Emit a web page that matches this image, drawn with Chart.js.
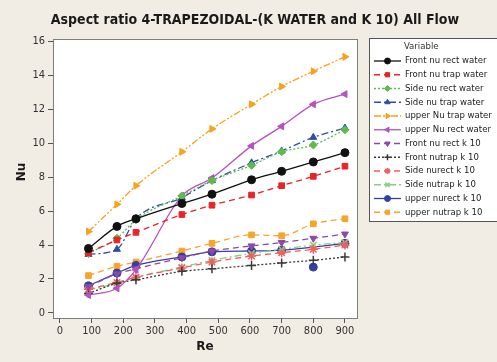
<!DOCTYPE html>
<html>
<head>
<meta charset="utf-8">
<script src="https://cdn.jsdelivr.net/npm/chart.js@4/dist/chart.umd.min.js"></script>
<style>
  html, body { margin: 0; padding: 0; background: #f1ede4; }
  #wrap { width: 497px; height: 362px; }
</style>
</head>
<body>
<div id="wrap"><canvas id="nuChart" width="497" height="362"></canvas></div>
<script>
// Re positions
const reValues = [90, 180, 240, 385, 480, 605, 700, 800, 900];

// Nu values
const frontRectWater = [3.8, 5.1, 5.55, 6.45, 7.0, 7.85, 8.35, 8.9, 9.45];
const frontTrapWater = [3.55, 4.3, 4.75, 5.8, 6.35, 6.95, 7.5, 8.05, 8.65];
const sideRectWater = [3.5, 4.4, 5.5, 6.9, 7.8, 8.7, 9.5, 9.9, 10.8];
const sideTrapWater = [3.45, 3.75, 5.55, 6.8, 7.8, 8.85, 9.55, 10.35, 10.9];
const upperTrapWater = [4.8, 6.4, 7.5, 9.5, 10.85, 12.3, 13.35, 14.25, 15.1];
const upperRectWater = [1.05, 1.45, 2.55, 6.9, 7.95, 9.85, 11.0, 12.3, 12.9];
const frontRectK10 = [1.55, 2.3, 2.6, 3.25, 3.65, 3.95, 4.15, 4.4, 4.65];
const frontTrapK10 = [1.15, 1.75, 1.95, 2.45, 2.6, 2.8, 2.95, 3.1, 3.3];
const sideRectK10 = [1.4, 1.8, 2.1, 2.65, 3.0, 3.35, 3.55, 3.75, 4.0];
const sideTrapK10 = [1.35, 1.75, 2.1, 2.7, 3.1, 3.5, 3.75, 4.0, 4.15];
// point à 800 hors de la courbe : tracé à part
const upperRectK10 = [1.6, 2.35, 2.8, 3.3, 3.6, 3.65, 3.7, null, 4.1];
const upperRectK10Outlier = [{ x: 800, y: 2.7 }];
const upperTrapK10 = [2.2, 2.75, 3.0, 3.65, 4.1, 4.6, 4.55, 5.25, 5.55];

const xTicks = [0, 100, 200, 300, 400, 500, 600, 700, 800, 900];
const yTicks = [0, 2, 4, 6, 8, 10, 12, 14, 16];

const toPoints = (vals) => vals.map((v, i) => ({ x: reValues[i], y: v }));

const isThin = (style) => style === "cross" || style === "crossRot" || style === "star";

const makeSeries = (label, vals, color, dash, style, rot) => ({
  label: label,
  data: toPoints(vals),
  borderColor: color,
  backgroundColor: color,
  borderWidth: 1.3,
  borderDash: dash,
  pointStyle: style,
  rotation: rot || 0,
  pointRadius: isThin(style) ? 4.5 : 4,
  pointBorderWidth: isThin(style) ? 1.5 : 1,
  cubicInterpolationMode: "monotone",
  spanGaps: true,
  fill: false,
});

const datasets = [
  makeSeries("Front nu rect water", frontRectWater, "#111111", [], "circle"),
  makeSeries("Front nu trap water", frontTrapWater, "#ec2227", [6, 4], "rect"),
  makeSeries("Side nu rect water", sideRectWater, "#5dbb4a", [2, 2], "rectRot"),
  makeSeries("Side nu trap water", sideTrapWater, "#2e4ea3", [7, 3, 2, 3], "triangle"),
  makeSeries("upper Nu trap water", upperTrapWater, "#f9a11b", [7, 2, 2, 2, 2, 2], "triangle", 90),
  makeSeries("upper Nu rect water", upperRectWater, "#b552bd", [], "triangle", -90),
  makeSeries("Front nu rect k 10", frontRectK10, "#8d48ab", [6, 4], "triangle", 180),
  makeSeries("Front nutrap k 10", frontTrapK10, "#3a3a3a", [2, 2], "cross"),
  makeSeries("Side nurect k 10", sideRectK10, "#f0605e", [6, 4], "star"),
  makeSeries("Side nutrap k 10", sideTrapK10, "#86cf7e", [7, 3, 2, 3], "crossRot"),
  makeSeries("upper nurect k 10", upperRectK10, "#3340a0", [], "circle"),
  makeSeries("upper nutrap k 10", upperTrapK10, "#f7a528", [6, 4], "rect"),
];

const outlierSet = makeSeries("", [], "#3340a0", [], "circle");
outlierSet.data = upperRectK10Outlier;
outlierSet.showLine = false;
outlierSet.inLegend = false;
datasets.push(outlierSet);

// fond beige + cadre blanc + textes + légende
const decorPlugin = {
  id: "decor",
  beforeDraw(chart) {
    const { ctx, chartArea } = chart;
    ctx.save();
    ctx.fillStyle = "#f1ede4";
    ctx.fillRect(0, 0, chart.width, chart.height);
    ctx.fillStyle = "#ffffff";
    ctx.fillRect(chartArea.left, chartArea.top, chartArea.right - chartArea.left, chartArea.bottom - chartArea.top);
    ctx.restore();
  },
  afterDraw(chart) {
    const { ctx, chartArea } = chart;
    ctx.save();
    ctx.strokeStyle = "#7d7d7d";
    ctx.lineWidth = 1;
    ctx.strokeRect(chartArea.left + 0.5, chartArea.top + 0.5, chartArea.right - chartArea.left, chartArea.bottom - chartArea.top);

    // titres
    ctx.fillStyle = "#1a1a1a";
    ctx.font = "bold 14px 'DejaVu Sans Condensed', 'DejaVu Sans', sans-serif";
    ctx.textAlign = "center";
    ctx.textBaseline = "middle";
    ctx.fillText("Aspect ratio 4-TRAPEZOIDAL-(K WATER and K 10) All Flow", 255, 20);
    ctx.font = "bold 12px 'DejaVu Sans', sans-serif";
    ctx.fillText("Re", 205, 347);
    ctx.save();
    ctx.translate(22, 172);
    ctx.rotate(-Math.PI / 2);
    ctx.fillText("Nu", 0, 0);
    ctx.restore();

    // légende
    const boxX = 369, boxY = 38, boxW = 140, boxH = 183;
    ctx.fillStyle = "#ffffff";
    ctx.fillRect(boxX, boxY, boxW, boxH);
    ctx.strokeStyle = "#555555";
    ctx.strokeRect(boxX + 0.5, boxY + 0.5, boxW, boxH);
    ctx.fillStyle = "#333333";
    ctx.font = "9.5px 'DejaVu Sans Condensed', 'DejaVu Sans', sans-serif";
    ctx.textAlign = "left";
    ctx.fillText("Variable", 404, 47);
    chart.data.datasets.filter((ds) => ds.inLegend !== false).forEach((ds, i) => {
      const y = 61 + i * 13.75;
      ctx.save();
      ctx.strokeStyle = ds.borderColor;
      ctx.lineWidth = 1.3;
      ctx.setLineDash(ds.borderDash);
      ctx.beginPath();
      ctx.moveTo(374, y);
      ctx.lineTo(401, y);
      ctx.stroke();
      ctx.setLineDash([]);
      ctx.fillStyle = ds.backgroundColor;
      ctx.strokeStyle = ds.borderColor;
      ctx.lineWidth = ds.pointBorderWidth;
      Chart.helpers.drawPoint(ctx, { pointStyle: ds.pointStyle, rotation: ds.rotation, radius: 3, borderWidth: ds.pointBorderWidth }, 387.5, y);
      ctx.restore();
      ctx.fillStyle = "#222222";
      ctx.fillText(ds.label, 405, y);
    });
    ctx.restore();
  },
};

const tickFont = { family: "'DejaVu Sans Condensed', 'DejaVu Sans', sans-serif", size: 11 };

const nuChart = new Chart(document.getElementById("nuChart"), {
  type: "line",
  data: { datasets: datasets },
  plugins: [decorPlugin],
  options: {
    responsive: false,
    animation: false,
    layout: { padding: { top: 39, right: 140, left: 0, bottom: 0 } },
    plugins: {
      legend: { display: false },
      tooltip: { enabled: false },
    },
    scales: {
      x: {
        type: "linear",
        min: -22,
        max: 938,
        afterBuildTicks: (scale) => { scale.ticks = xTicks.map((v) => ({ value: v })); },
        afterFit: (scale) => { scale.height = 44; },
        ticks: { color: "#333333", font: tickFont, padding: 2 },
        grid: { drawOnChartArea: false, drawTicks: true, tickLength: 5, color: "#555555" },
        border: { display: true, color: "#555555" },
      },
      y: {
        type: "linear",
        min: -0.3,
        max: 16.15,
        afterBuildTicks: (scale) => { scale.ticks = yTicks.map((v) => ({ value: v })); },
        afterFit: (scale) => { scale.width = 53; },
        ticks: { color: "#333333", font: tickFont, padding: 3 },
        grid: { drawOnChartArea: false, drawTicks: true, tickLength: 5, color: "#555555" },
        border: { display: true, color: "#555555" },
      },
    },
  },
});
</script>
</body>
</html>
